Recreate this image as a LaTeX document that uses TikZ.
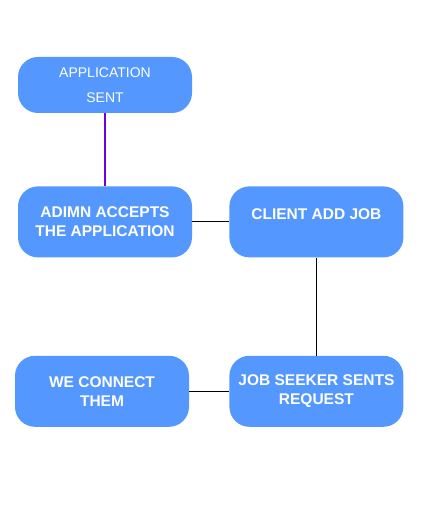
\documentclass[tikz,border=0pt]{standalone}
\usepackage{fontspec}
\setmainfont{Liberation Sans}
\usetikzlibrary{positioning}
\definecolor{boxblue}{RGB}{84,152,255}
\definecolor{linkpurple}{RGB}{111,0,230}

\begin{document}
\begin{tikzpicture}[x=1pt,y=-1pt,node distance=37pt,
                    job node/.style={rectangle,rounded corners=20pt,fill=boxblue,text=white,
                      minimum width=174pt,minimum height=71pt,align=center,
                      font=\fontsize{15.5}{19}\selectfont\bfseries}]

  \useasboundingbox (0,0) rectangle (420,510);

  \node[job node, minimum height=56pt, font=\fontsize{14}{25}\selectfont] (app) at (105,85) {APPLICATION\\SENT};
  \node[job node] (admin) [below=73pt of app] {ADIMN ACCEPTS\\THE APPLICATION};
  \node[job node, text depth=16pt] (client) [right=of admin] {CLIENT ADD JOB};
  \node[job node] (seeker) [below=98pt of client] {JOB SEEKER SENTS\\REQUEST};
  \node[job node] (connect) [left=40pt of seeker] {WE CONNECT\\THEM};

  \draw[linkpurple, line width=2pt] (app) -- (admin);
  \path[draw=black, line width=1pt]
    (admin) edge (client)
    (client) edge (seeker)
    (seeker) edge (connect);
\end{tikzpicture}
\end{document}
